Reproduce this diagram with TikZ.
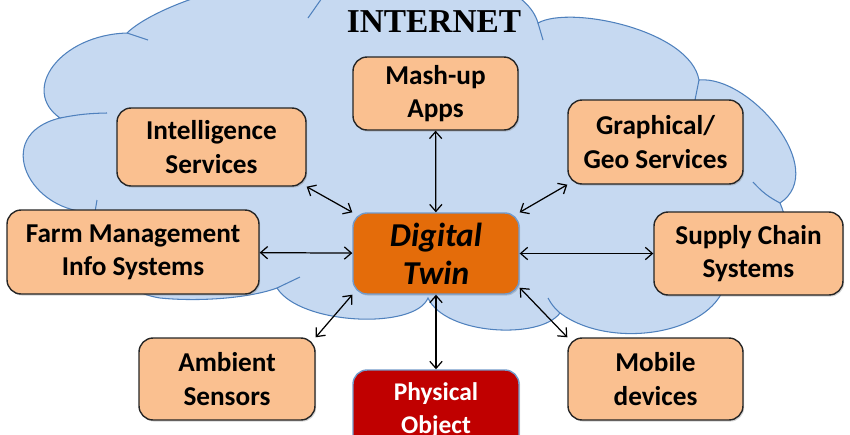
\documentclass[tikz,border=0pt]{standalone}
\usepackage{fontspec}
\setmainfont{Carlito}
\newfontfamily\headserif{Liberation Serif}
\usetikzlibrary{arrows.meta, shadows}
\definecolor{cloudfill}{HTML}{C6D9F1}
\definecolor{cloudline}{HTML}{4F81BD}
\definecolor{boxpeach}{HTML}{FAC090}
\definecolor{twinorange}{HTML}{E46C0A}
\definecolor{physred}{HTML}{C00000}

\begin{document}
\begin{tikzpicture}[x=0.02cm, y=-0.02cm,
    svc/.style={draw=black!85, line width=0.8pt, rounded corners=8pt, fill=boxpeach,
                inner sep=0pt, align=center, font=\fontsize{15.5}{19}\selectfont\bfseries,
                drop shadow={shadow xshift=0.7pt, shadow yshift=-0.9pt, opacity=0.35}},
    link/.style={{Straight Barb[length=4pt,width=7pt]}-{Straight Barb[length=4pt,width=7pt]},
                line width=0.7pt},
    puff/.style={cloudline, line width=0.6pt},
  ]
  \clip (0,0) rectangle (850,434);

  \fill[cloudfill, draw=cloudline, line width=0.6pt]
    (127,33) .. controls (155,5) and (280,-40) .. (322,-2)
    .. controls (340,-50) and (520,-40) .. (538,23)
    .. controls (570,5) and (690,30) .. (699,80)
    .. controls (750,75) and (830,170) .. (780,203)
    .. controls (800,250) and (780,290) .. (725,285)
    .. controls (710,335) and (610,350) .. (560,313)
    .. controls (540,340) and (445,335) .. (428,298)
    .. controls (415,330) and (300,325) .. (277,288)
    .. controls (250,298) and (200,302) .. (160,298)
    .. controls (110,290) and (100,250) .. (95,212)
    .. controls (30,215) and (-10,135) .. (60,118)
    .. controls (20,90) and (60,35) .. (127,33)
    -- cycle;
  \draw[puff] (127,33) -- (148,40);
  \draw[puff] (322,-2) -- (308,18);
  \draw[puff] (538,23) -- (543,40);
  \draw[puff] (699,80) -- (695,100);
  \draw[puff] (780,203) to[bend left=10] (753,182);
  \draw[puff] (560,313) to[bend left=10] (548,298);
  \draw[puff] (277,288) -- (300,277);
  \draw[puff] (60,118) to[bend left=5] (107,113);
  \draw[puff] (95,212) -- (97,200);

  \node[font=\headserif\fontsize{19}{22}\selectfont\bfseries, anchor=base] (net) at (434,32) {INTERNET};

  \node[svc, minimum width=3.3cm,  minimum height=1.46cm] (mash)   at (435.5,93.5) {Mash-up\\Apps};
  \node[svc, minimum width=3.78cm, minimum height=1.56cm] (intel)  at (211.5,147)  {Intelligence\\Services};
  \node[svc, minimum width=3.5cm,  minimum height=1.68cm] (geo)    at (655.5,142)  {Graphical/\\Geo Services};
  \node[svc, minimum width=5.04cm, minimum height=1.68cm] (farm)   at (133,252)    {Farm Management\\Info Systems};
  \node[svc, minimum width=3.78cm, minimum height=1.66cm] (supply) at (748.5,253.5) {Supply Chain\\Systems};
  \node[svc, minimum width=3.52cm, minimum height=1.64cm] (amb)    at (227,379)    {Ambient\\Sensors};
  \node[svc, minimum width=3.5cm,  minimum height=1.64cm] (mobile) at (655.5,379)  {Mobile\\devices};
  \node[svc, draw=cloudline!80, fill=twinorange, minimum width=3.32cm, minimum height=1.62cm,
        font=\fontsize{19}{21.5}\selectfont\bfseries\itshape] (twin) at (436,253.5) {Digital\\Twin};
  \node[svc, draw=cloudline!80, fill=physred, text=white, minimum width=3.32cm, minimum height=1.62cm,
        font=\fontsize{14.5}{19}\selectfont\bfseries] (phys) at (436,410.5) {Physical\\Object};

  \draw[link] (mash) -- (twin);
  \draw[link] (intel.south east) -- (twin.north west);
  \draw[link] (geo.south west) -- (twin.north east);
  \draw[link] (farm) -- (twin);
  \draw[link] (twin) -- (supply);
  \draw[link] (amb.north east) -- (twin.south west);
  \draw[link] (mobile.north west) -- ([yshift=0.14cm]twin.south east);
  \draw[link] (twin) -- (phys);
\end{tikzpicture}
\end{document}
